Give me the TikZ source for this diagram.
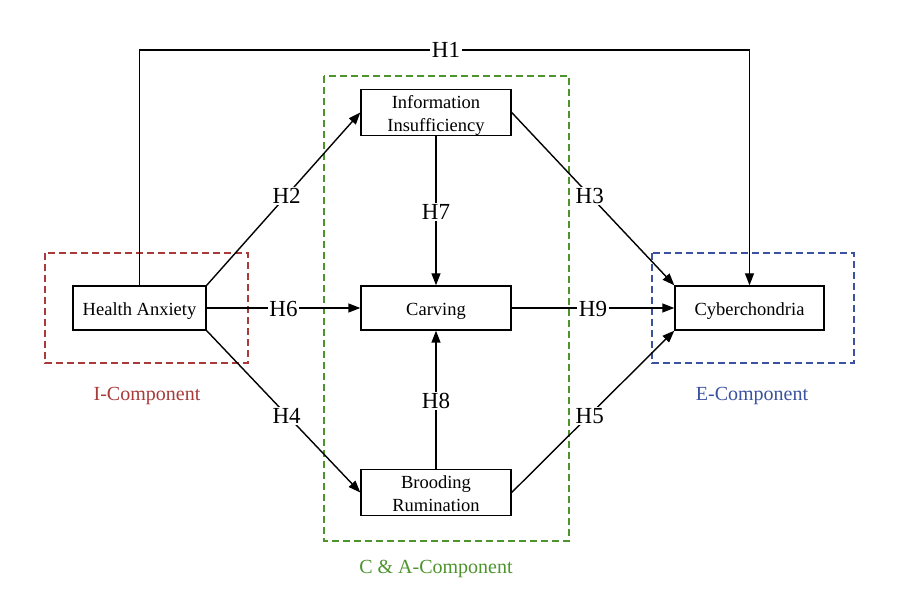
\documentclass[tikz,border=0pt]{standalone}
\usepackage{fontspec}
\setmainfont{Liberation Serif}
\usetikzlibrary{arrows.meta}
\definecolor{redc}{RGB}{168,58,58}
\definecolor{greenc}{RGB}{78,148,46}
\definecolor{bluec}{RGB}{58,82,160}
\newcommand\bt[1]{\raisebox{-3pt}[\height][\depth]{\begin{tabular}{@{}c@{}}#1\end{tabular}}}
\tikzset{
  box/.style={draw, line width=1.4pt, fill=white, inner sep=0pt,
    font=\fontsize{18.5}{23}\selectfont},
  arr/.style={line width=1.4pt, -{Triangle[length=12pt,width=9pt]}},
  hlab/.style={fill=white, inner xsep=1.5pt, inner ysep=1.5pt, text height=15pt, text depth=0pt,
    font=\fontsize{23}{26}\selectfont},
  grp/.style={line width=1.3pt, dash pattern=on 7pt off 4pt},
  glab/.style={font=\fontsize{20}{24}\selectfont}
}
\begin{document}
\begin{tikzpicture}[x=1pt,y=-1pt]
\useasboundingbox[fill=white] (0,0) rectangle (911,593);
% groups
\draw[grp, draw=redc] (45,253) rectangle (248,363);
\draw[grp, draw=greenc] (324,76) rectangle (569,541);
\draw[grp, draw=bluec] (652,253) rectangle (854,363);
\node[glab, text=redc] (icomp) at (147,396) {I-Component};
\node[glab, text=greenc] (cacomp) at (436,569) {C \& A-Component};
\node[glab, text=bluec] (ecomp) at (752,396) {E-Component};
% boxes
\node[box, minimum width=133pt, minimum height=44pt] (ha) at (139.5,308) {\bt{Health Anxiety}};
\node[box, minimum width=150pt, minimum height=45pt] (ii) at (436,112.5) {\bt{Information\\Insufficiency}};
\node[box, minimum width=150pt, minimum height=44pt] (cv) at (436,308) {\bt{Carving}};
\node[box, minimum width=150pt, minimum height=45pt] (br) at (436,492.5) {\bt{Brooding\\Rumination}};
\node[box, minimum width=149pt, minimum height=44pt] (cy) at (749.5,308) {\bt{Cyberchondria}};
% H1
\coordinate (top) at (444,50);
\draw[arr] (ha.north) |- (top) -| (cy.north);
\node[hlab] (h1) at (446,50.5) {H1};
% others
\draw[arr] (ha.north east) -- node[hlab, pos=0.52, yshift=-1pt] (h2) {H2} (ii.west);
\draw[arr] (ha.south east) -- node[hlab, pos=0.52, yshift=-1pt] (h4) {H4} (br.west);
\draw[arr] (ha.east) -- node[hlab, pos=0.5, yshift=-1pt] (h6) {H6} (cv.west);
\draw[arr] (ii.east) -- node[hlab, pos=0.48, yshift=-1pt] (h3) {H3} (cy.north west);
\draw[arr] (br.east) -- node[hlab, pos=0.48, yshift=-1pt] (h5) {H5} (cy.south west);
\draw[arr] (ii.south) -- node[hlab, yshift=-1pt] (h7) {H7} (cv.north);
\draw[arr] (br.north) -- node[hlab, yshift=-1pt] (h8) {H8} (cv.south);
\draw[arr] (cv.east) -- node[hlab, pos=0.5, yshift=-1pt] (h9) {H9} (cy.west);
\end{tikzpicture}
\end{document}
